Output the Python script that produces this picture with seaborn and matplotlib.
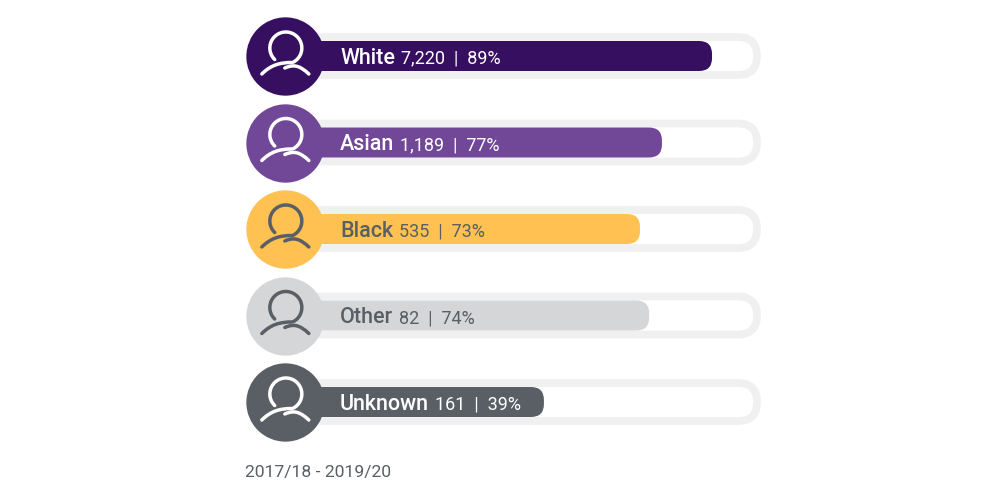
import matplotlib
matplotlib.use('Agg')
import matplotlib.pyplot as plt
from matplotlib.patches import FancyBboxPatch, PathPatch
from matplotlib.path import Path
from matplotlib.transforms import Affine2D
import pandas as pd
import seaborn as sns

groups = ['White', 'Asian', 'Black', 'Other', 'Unknown']
counts = ['7,220', '1,189', '535', '82', '161']
percents = ['89%', '77%', '73%', '74%', '39%']
# drawn bar lengths as share of the track, they don't follow the labels exactly
bar_lengths = [91.2, 81.4, 77.1, 78.9, 58.3]
track_lengths = [100, 100, 100, 100, 100]
colors = ['#360f60', '#714797', '#fec152', '#d5d6d8', '#595f64']
text_colors = ['white', 'white', '#595f64', '#595f64', 'white']
period = '2017/18 - 2019/20'

sns.set_theme(style='white')
plt.rcParams['font.family'] = ['Roboto', 'DejaVu Sans']

df = pd.DataFrame({'group': groups, 'bar': bar_lengths, 'track': track_lengths})

fig = plt.figure(figsize=(10, 5), dpi=100, facecolor='white')
# x: 0 at px 246, 100 at px 757. y: rows 86.5 px apart
ax = fig.add_axes([0.246, (500 - 445.25) / 500, 0.511, 432.5 / 500])
sns.barplot(data=df, y='group', x='track', color='white', width=38 / 86.5, ax=ax)
n_track = len(ax.patches)
sns.barplot(data=df, y='group', x='bar', hue='group', palette=colors, legend=False,
            width=30 / 86.5, ax=ax)
ax.set_ylim(4.5, -0.5)
ax.set_xlim(0, 100)
ax.axis('off')

xpx = 5.11
ypx = 86.5
circle_x = 7.6


def round_it(bar, radius, start=0, **kw):
    # swap the square bar for a rounded one of the same size
    box = FancyBboxPatch((bar.get_x() + start, bar.get_y()), bar.get_width() - start, bar.get_height(),
                         boxstyle='round,pad=0,rounding_size=%f' % (radius / xpx),
                         mutation_aspect=xpx / ypx, clip_on=False, **kw)
    bar.set_visible(False)
    ax.add_patch(box)


all_bars = list(ax.patches)
for bar in all_bars[:n_track]:
    # starts under the circle so its left end stays hidden
    round_it(bar, 19, start=circle_x, facecolor='white', edgecolor='#f0f0f0', linewidth=5.6, zorder=2)
for bar, c in zip(all_bars[n_track:], colors):
    round_it(bar, 13, start=circle_x, facecolor=c, edgecolor='none', zorder=3)

# person icon in px around the circle centre, y up
head = Path.arc(-62, 226)
head = Path(head.vertices * 16 + [1, 8], head.codes)
left = Path([(-23, -18), (-14, -9), (-5, -6.5), (7, -6.5)],
            [Path.MOVETO, Path.CURVE4, Path.CURVE4, Path.CURVE4])
right = Path([(0, -12), (9, -8), (15, -9.5), (24, -18)],
             [Path.MOVETO, Path.CURVE4, Path.CURVE4, Path.CURVE4])

renderer = fig.canvas.get_renderer()
for i, g in enumerate(groups):
    dot = ax.scatter([circle_x], [i], s=3180, color=colors[i], linewidths=0, zorder=4, clip_on=False)
    dot.set_snap(False)
    offset = Affine2D().translate(*ax.transData.transform((circle_x, i)))
    for p in [head, left, right]:
        ax.add_patch(PathPatch(p, transform=offset, facecolor='none', edgecolor=text_colors[i],
                               linewidth=2.5, capstyle='round', zorder=5, clip_on=False))
    # label, then count and percent continue right after it
    t = ax.text(18.4, i + 0.087, g, color=text_colors[i], fontsize=15.5, fontweight='medium',
                va='baseline', ha='left', zorder=6)
    end = t.get_window_extent(renderer=renderer).x1
    ax.annotate('%s  |  %s' % (counts[i], percents[i]), xy=(end + 6, i + 0.087),
                xycoords=('figure pixels', 'data'), color=text_colors[i], fontsize=13,
                va='baseline', ha='left', zorder=6)

fig.text(0.245, (500 - 472.5) / 500, period, color='#595f64', fontsize=12.6, va='center', ha='left')

fig.savefig('out.png', dpi=100)
plt.close()
